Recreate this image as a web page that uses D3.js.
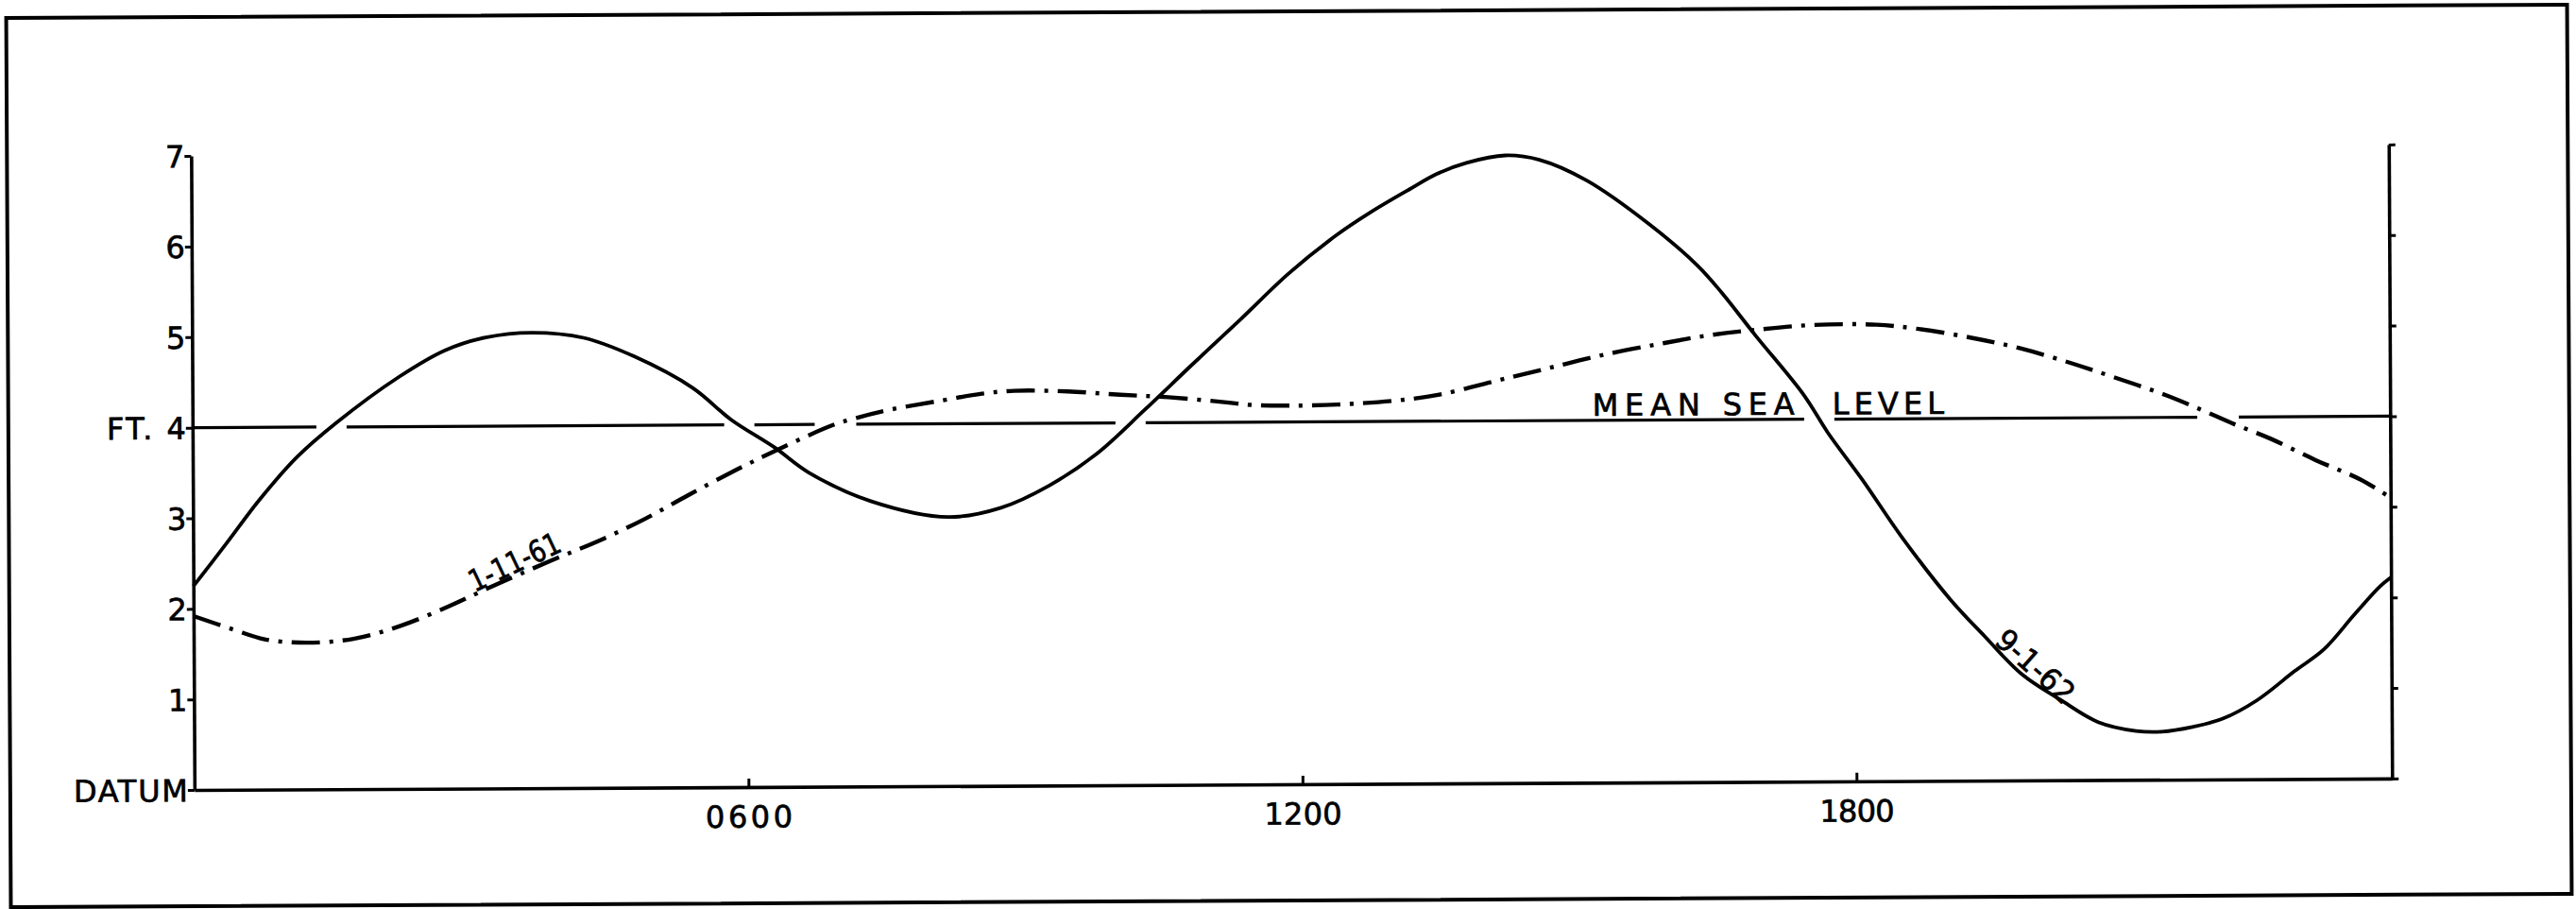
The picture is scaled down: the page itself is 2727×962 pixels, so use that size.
<!DOCTYPE html>
<html><head><meta charset="utf-8">
<script src="https://cdn.jsdelivr.net/npm/d3@7"></script>
<style>html,body{margin:0;padding:0;background:#fff;} svg{display:block;}</style>
</head><body>
<svg id="chart" width="2727" height="962"></svg>
<script>
// ---- data (hours after midnight, feet above datum) ----
const solidHours = [0.00,0.36,0.72,1.13,1.55,2.24,2.74,3.18,3.68,4.24,4.79,5.42,5.83,6.30,6.67,7.34,8.18,8.75,9.27,9.79,10.31,10.83,11.36,11.88,12.40,12.77,13.19,13.49,13.81,14.23,14.60,15.11,15.79,16.31,16.57,16.93,17.45,17.71,18.08,18.50,19.02,19.39,19.80,20.21,20.62,21.03,21.31,21.64,21.97,22.34,22.75,23.07,23.40,23.68,23.80];
const solidFeet  = [2.25,2.72,3.20,3.67,4.04,4.55,4.84,4.98,5.03,4.97,4.76,4.41,4.06,3.75,3.47,3.15,2.97,3.07,3.31,3.66,4.14,4.64,5.14,5.64,6.06,6.31,6.56,6.73,6.85,6.93,6.88,6.65,6.16,5.70,5.40,4.93,4.27,3.85,3.33,2.70,2.01,1.60,1.17,0.89,0.64,0.54,0.53,0.58,0.67,0.87,1.19,1.43,1.81,2.12,2.22];
const dashHours = [0.00,0.43,0.77,1.22,1.73,2.24,2.78,3.19,3.87,4.42,4.90,5.37,5.88,6.35,6.93,7.19,7.56,8.13,8.55,8.90,9.48,10.05,10.57,11.20,11.46,11.88,12.40,13.03,13.49,14.07,14.65,15.27,15.89,16.41,16.93,17.55,18.24,18.70,19.27,19.80,20.33,20.80,21.36,21.76,22.09,22.50,22.99,23.48,23.80];
const dashFeet  = [1.92,1.77,1.66,1.62,1.66,1.80,2.02,2.21,2.51,2.74,2.97,3.23,3.50,3.73,3.99,4.07,4.16,4.26,4.33,4.36,4.35,4.31,4.28,4.22,4.19,4.18,4.19,4.23,4.29,4.43,4.57,4.72,4.84,4.93,4.99,5.04,5.04,4.99,4.89,4.77,4.61,4.45,4.25,4.08,3.93,3.76,3.52,3.30,3.10];
const yTickValues = [0,1,2,3,4,5,6,7];
const yTickLabels = ["DATUM","1","2","3","FT. 4","5","6","7"];
const xTickValues = [6,12,18];
const xTickLabels = ["0600","1200","1800"];
const meanSeaLevel = 4;
const solidLabel = "9-1-62";
const dashLabel = "1-11-61";
const mslWords = ["MEAN SEA","LEVEL"];

// ---- layout ----
const W = 2727, H = 962;
const FONT = "'DejaVu Sans', 'Liberation Sans', sans-serif";
const svg = d3.select("#chart");
svg.append("rect").attr("width", W).attr("height", H).attr("fill", "#fff");
const g = svg.append("g").attr("transform", "rotate(-0.3,1364,480)");

g.append("rect").attr("x", 9).attr("y", 12).attr("width", 2711).attr("height", 941)
  .attr("fill", "none").attr("stroke", "#000").attr("stroke-width", 4);

const x = d3.scaleLinear().domain([0, 24]).range([204, 204 + 24 * 97.75]);
const y = d3.scaleLinear().domain([0, 7]).range([830, 159]);
const xEnd = 23.8;
const xAxisScale = d3.scaleLinear().domain([0, xEnd]).range([x(0), x(xEnd)]);

function styleText(sel, size) {
  sel.attr("fill", "#000").attr("stroke", "#000").attr("stroke-width", 0.7)
    .style("font-family", FONT).style("font-size", size + "px");
}

// left axis
const left = g.append("g").attr("transform", `translate(${x(0)},0)`)
  .call(d3.axisLeft(y).tickValues(yTickValues).tickSizeInner(7).tickSizeOuter(0).tickPadding(0)
    .tickFormat((d, i) => yTickLabels[i]));
// right axis
const right = g.append("g").attr("transform", `translate(${x(xEnd)},0)`)
  .call(d3.axisRight(y).tickValues(yTickValues).tickSizeInner(7).tickSizeOuter(0).tickFormat(""));
// bottom axis
const bottom = g.append("g").attr("transform", `translate(0,${y(0)})`)
  .call(d3.axisBottom(xAxisScale).tickValues(xTickValues).tickSizeInner(-9).tickSizeOuter(0).tickPadding(20)
    .tickFormat((d, i) => xTickLabels[i]));
[left, right, bottom].forEach(a => {
  a.selectAll("path.domain").attr("stroke", "#000").attr("stroke-width", 3.6);
  a.selectAll(".tick line").attr("stroke", "#000").attr("stroke-width", 3);
  styleText(a.selectAll("text"), 32);
});
left.selectAll(".tick text").attr("dy", "0.36em")
  .each(function(d, i) {
    const lens = {"DATUM": 121, "FT. 4": 84};
    const t = yTickLabels[i];
    if (lens[t]) d3.select(this).attr("textLength", lens[t]).attr("lengthAdjust", "spacing");
  });
const xLens = [92, 82, 79];
bottom.selectAll(".tick text").attr("textLength", (d, i) => xLens[i]).attr("lengthAdjust", "spacing");

// ---- mean sea level line with gaps at crossings ----
function crossings(hs, fs, level) {
  const out = [];
  for (let i = 0; i < hs.length - 1; i++) {
    if ((fs[i] - level) * (fs[i + 1] - level) < 0) {
      out.push(hs[i] + (level - fs[i]) / (fs[i + 1] - fs[i]) * (hs[i + 1] - hs[i]));
    }
  }
  return out;
}
const gaps = crossings(solidHours, solidFeet, meanSeaLevel).map(h => [x(h) - 16, x(h) + 16])
  .concat(crossings(dashHours, dashFeet, meanSeaLevel).map(h => [x(h) - 22, x(h) + 22]))
  .sort((a, b) => a[0] - b[0]);
let segs = [], cur = x(0) + 2;
gaps.forEach(gp => { segs.push([cur, gp[0]]); cur = gp[1]; });
segs.push([cur, x(xEnd)]);
g.append("g").selectAll("line").data(segs).join("line")
  .attr("x1", d => d[0]).attr("x2", d => d[1])
  .attr("y1", y(meanSeaLevel)).attr("y2", y(meanSeaLevel))
  .attr("stroke", "#000").attr("stroke-width", 3.2);

// ---- curves ----
const line = d3.line().x(d => x(d[0])).y(d => y(d[1])).curve(d3.curveCatmullRom.alpha(0.5));
const solidData = solidHours.map((h, i) => [h, solidFeet[i]]);
const dashData = dashHours.map((h, i) => [h, dashFeet[i]]);

g.append("path").datum(dashData).attr("d", line).attr("fill", "none")
  .attr("stroke", "#000").attr("stroke-width", 4.4).attr("stroke-dasharray", "30,10,4,10");
g.append("path").datum(solidData).attr("d", line).attr("fill", "none")
  .attr("stroke", "#000").attr("stroke-width", 3.8).attr("stroke-linejoin", "round");

// ---- labels ----
function interp(hs, fs, h) {
  for (let i = 0; i < hs.length - 1; i++) {
    if (h >= hs[i] && h <= hs[i + 1]) return fs[i] + (h - hs[i]) / (hs[i + 1] - hs[i]) * (fs[i + 1] - fs[i]);
  }
  return fs[fs.length - 1];
}
function curveLabel(text, hs, fs, h, angle, dy, len) {
  const t = g.append("text")
    .attr("transform", `translate(${x(h)},${y(interp(hs, fs, h))}) rotate(${angle})`)
    .attr("text-anchor", "middle").attr("dy", dy)
    .attr("textLength", len).attr("lengthAdjust", "spacingAndGlyphs")
    .text(text);
  styleText(t, 32);
}
curveLabel(dashLabel, dashHours, dashFeet, 3.54, -25, -3, 104);
curveLabel(solidLabel, solidHours, solidFeet, 19.84, 42, -4, 100);

// mean sea level caption
const mslSpans = [[15.16, 17.35], [17.76, 18.97]];
mslWords.forEach((w, i) => {
  const t = g.append("text").attr("x", x(mslSpans[i][0])).attr("y", y(meanSeaLevel) - 5)
    .attr("textLength", x(mslSpans[i][1]) - x(mslSpans[i][0])).attr("lengthAdjust", "spacing")
    .text(w);
  styleText(t, 32);
});
</script>
</body></html>
